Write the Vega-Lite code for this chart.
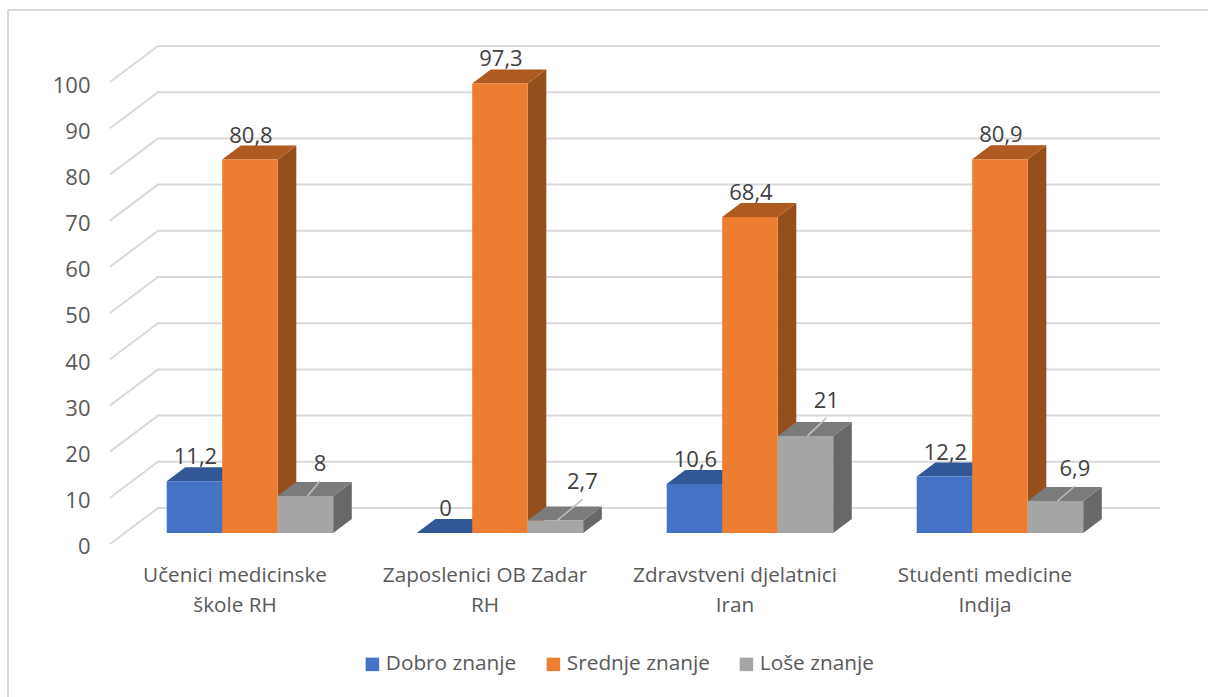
{
"$schema":"https://vega.github.io/schema/vega-lite/v6.json",
"width":1208,"height":697,"padding":0,"autosize":{"type":"none"},"background":"white",
"config":{"view":{"stroke":null},"font":"Open Sans","text":{"font":"Open Sans"}},
"data":{"values":[
{"group":"Učenici medicinske\nškole RH","series":"Dobro znanje","value":11.2},
{"group":"Učenici medicinske\nškole RH","series":"Srednje znanje","value":80.8},
{"group":"Učenici medicinske\nškole RH","series":"Loše znanje","value":8},
{"group":"Zaposlenici OB Zadar\nRH","series":"Dobro znanje","value":0},
{"group":"Zaposlenici OB Zadar\nRH","series":"Srednje znanje","value":97.3},
{"group":"Zaposlenici OB Zadar\nRH","series":"Loše znanje","value":2.7},
{"group":"Zdravstveni djelatnici\nIran","series":"Dobro znanje","value":10.6},
{"group":"Zdravstveni djelatnici\nIran","series":"Srednje znanje","value":68.4},
{"group":"Zdravstveni djelatnici\nIran","series":"Loše znanje","value":21},
{"group":"Studenti medicine\nIndija","series":"Dobro znanje","value":12.2},
{"group":"Studenti medicine\nIndija","series":"Srednje znanje","value":80.9},
{"group":"Studenti medicine\nIndija","series":"Loše znanje","value":6.9}
]},
"transform":[
{"calculate":"indexof(['Dobro znanje','Srednje znanje','Loše znanje'],datum.series)","as":"s"},
{"calculate":"indexof(['Učenici medicinske\\nškole RH','Zaposlenici OB Zadar\\nRH','Zdravstveni djelatnici\\nIran','Studenti medicine\\nIndija'],datum.group)","as":"g"},
{"calculate":"datum.g+0.2268+datum.s*0.222","as":"x0"},
{"calculate":"datum.x0+0.222","as":"x1"},
{"calculate":"2.4","as":"base"},
{"calculate":"2.4+datum.value","as":"t"},
{"calculate":"replace(''+datum.value,'.',',')","as":"label"}
],
"resolve":{"scale":{"color":"independent"}},
"layer":[
{"data":{"values":[{"v":0},{"v":10},{"v":20},{"v":30},{"v":40},{"v":50},{"v":60},{"v":70},{"v":80},{"v":90},{"v":100}]},
 "transform":[
 {"calculate":"[0,0.192,4.2]","as":"gx"},
 {"calculate":"[datum.v,datum.v+7.79,datum.v+7.79]","as":"gy"},
 {"flatten":["gx","gy"]}],
 "mark":{"type":"line","stroke":"#d9d9d9","strokeWidth":2},
 "encoding":{"x":{"field":"gx","type":"quantitative","scale":{"domain":[-0.44,4.392],"nice":false,"zero":false},"axis":null},
 "y":{"field":"gy","type":"quantitative","scale":{"domain":[-33.117,117.749],"nice":false,"zero":false},"axis":{"values":[0,10,20,30,40,50,60,70,80,90,100],"domain":false,"ticks":false,"grid":false,"title":null,"labelPadding":-90,"labelOffset":3,"labelFont":"Open Sans","labelFontSize":22,"labelColor":"#595959"}},
 "detail":{"field":"v"}}},
{"data":{"values":[{}]},"mark":{"type":"rule","stroke":"#d9d9d9","strokeWidth":2},
 "encoding":{"x":{"datum":-0.408,"type":"quantitative","axis":null},"x2":{"datum":4.392},
 "y":{"datum":115.58,"type":"quantitative"}}},
{"data":{"values":[{}]},"mark":{"type":"rule","stroke":"#d9d9d9","strokeWidth":2},
 "encoding":{"x":{"datum":-0.408,"type":"quantitative","axis":null},
 "y":{"datum":115.58,"type":"quantitative"},"y2":{"datum":-33.117}}},
{"transform":[
 {"calculate":"[datum.x1,datum.x1+0.0744]","as":"sx"},
 {"calculate":"[datum.base,datum.base+3.03]","as":"sy"},
 {"calculate":"[datum.t,datum.t+3.03]","as":"sy2"},
 {"flatten":["sx","sy","sy2"]}],
 "mark":{"type":"area","orient":"vertical"},
 "encoding":{"x":{"field":"sx","type":"quantitative","axis":null},
 "y":{"field":"sy","type":"quantitative","stack":null},"y2":{"field":"sy2"},
 "detail":{"field":"g"},
 "color":{"field":"series","type":"nominal","legend":null,"scale":{"domain":["Dobro znanje","Srednje znanje","Loše znanje"],"range":["#2A4A85","#954F1C","#686868"]}}}},
{"transform":[
 {"calculate":"[datum.x0,datum.x0+0.0744,datum.x1,datum.x1+0.0744]","as":"tx"},
 {"calculate":"[datum.t,datum.t,datum.t,datum.t+3.03]","as":"ty"},
 {"calculate":"[datum.t,datum.t+3.03,datum.t+3.03,datum.t+3.03]","as":"ty2"},
 {"flatten":["tx","ty","ty2"]}],
 "mark":{"type":"area","orient":"vertical"},
 "encoding":{"x":{"field":"tx","type":"quantitative","axis":null},
 "y":{"field":"ty","type":"quantitative","stack":null},"y2":{"field":"ty2"},
 "detail":{"field":"g"},
 "color":{"field":"series","type":"nominal","legend":null,"scale":{"domain":["Dobro znanje","Srednje znanje","Loše znanje"],"range":["#315796","#AE5A21","#7B7B7B"]}}}},
{"mark":{"type":"rect"},
 "encoding":{"x":{"field":"x0","type":"quantitative","axis":null},"x2":{"field":"x1"},
 "y":{"field":"base","type":"quantitative"},"y2":{"field":"t"},
 "color":{"field":"series","type":"nominal","scale":{"domain":["Dobro znanje","Srednje znanje","Loše znanje"],"range":["#4472C4","#ED7D31","#A5A5A5"]},
  "legend":{"title":null,"orient":"none","legendX":362,"legendY":654,"direction":"horizontal","columns":3,"gridAlign":"none","symbolType":"square","symbolSize":182,"symbolStrokeWidth":0,"labelFont":"Open Sans","labelFontSize":20.8,"labelColor":"#595959","labelOffset":3,"columnPadding":26,"symbolOpacity":1}}}},
{"transform":[
 {"filter":"datum.s==2"},
 {"calculate":"(datum.x0+datum.x1)/2+0.008","as":"ax"},
 {"calculate":"(datum.x0+datum.x1)/2+[14.5,27,21,19.5][datum.g]/250","as":"bx"},
 {"calculate":"datum.t+([33,39,36,33][datum.g]-18)/4.62","as":"by"}],
 "mark":{"type":"rule","stroke":"#BFBFBF","strokeWidth":1.5},
 "encoding":{"x":{"field":"ax","type":"quantitative","axis":null},"x2":{"field":"bx"},
 "y":{"field":"t","type":"quantitative"},"y2":{"field":"by"}}},
{"transform":[
 {"calculate":"(datum.x0+datum.x1)/2+(datum.s==2?[14.5,27,21,19.5][datum.g]:1)/250","as":"lx"},
 {"calculate":"datum.t+(datum.s==2?[33,39,36,33][datum.g]-1:24)/4.62","as":"ly"}],
 "mark":{"type":"text","font":"Open Sans","fontSize":22,"color":"#404040","baseline":"middle","align":"center"},
 "encoding":{"x":{"field":"lx","type":"quantitative","axis":null},"y":{"field":"ly","type":"quantitative"},"text":{"field":"label"}}},
{"transform":[
 {"filter":"datum.s==0"},
 {"calculate":"datum.g+0.5","as":"cx"}],
 "mark":{"type":"text","font":"Open Sans","fontSize":20.7,"color":"#595959","baseline":"top","align":"center","lineBreak":"\n","lineHeight":30},
 "encoding":{"x":{"field":"cx","type":"quantitative","axis":null},"y":{"datum":-4.67,"type":"quantitative"},"text":{"field":"group"}}}
]
}
